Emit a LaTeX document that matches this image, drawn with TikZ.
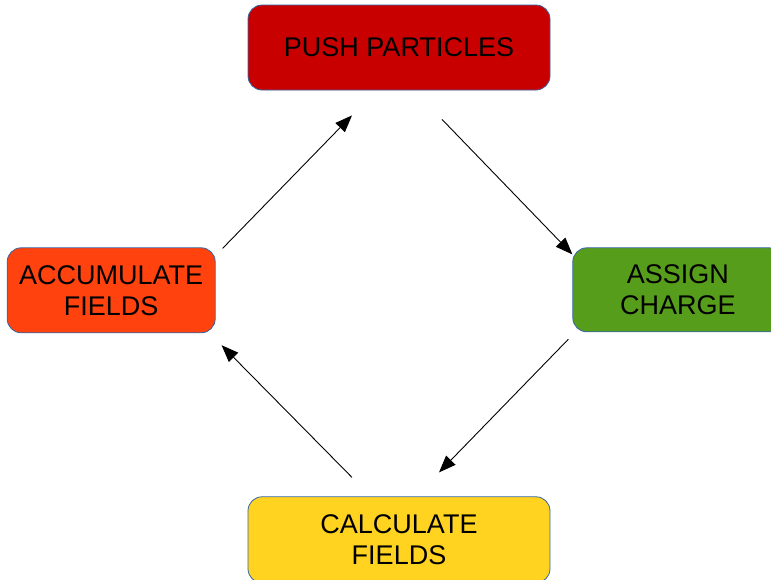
\documentclass[tikz,border=0pt]{standalone}
\usepackage{fontspec}
\setmainfont{Liberation Sans}
\usepackage{xcolor}
\usepackage{tikz}
\usetikzlibrary{positioning,arrows.meta}
\definecolor{pushred}{RGB}{201,0,0}
\definecolor{assigngreen}{RGB}{87,157,28}
\definecolor{accumorange}{RGB}{255,66,14}
\definecolor{calcyellow}{RGB}{255,211,32}
\definecolor{boxborder}{RGB}{52,101,164}
\tikzset{
  cycle step/.style={rectangle, rounded corners=14pt, draw=boxborder, line width=0.8pt, align=center, inner sep=0pt, minimum height=85pt, font=\fontsize{27}{31}\selectfont},
  cycle arrow/.style={-{Triangle[length=17pt,width=13pt]}, line width=0.9pt}
}

\begin{document}
\begin{tikzpicture}[x=1pt, y=-1pt]
    \useasboundingbox (0,0) rectangle (771,579);

    % Steps of the cycle
    \node [cycle step, fill=pushred, minimum width=302pt] (Push) at (399,47.5) {PUSH PARTICLES};
    \node [cycle step, fill=assigngreen, minimum width=210pt, minimum height=84pt, below right=157pt and 22pt of Push.south east, anchor=north west] (Assign) {ASSIGN\\CHARGE};
    \node [cycle step, fill=accumorange, minimum width=208pt, below left=157pt and 32pt of Push.south west, anchor=north east] (Accum) {ACCUMULATE\\FIELDS};
    \node [cycle step, fill=calcyellow, minimum width=302pt, minimum height=86pt, below=406pt of Push] (Calc) {CALCULATE\\FIELDS};

    % Arrow ends
    \coordinate (PushOut) at ([shift={(43,29)}]Push.south);
    \coordinate (AssignIn) at ([shift={(0,7)}]Assign.north west);
    \coordinate (AssignOut) at ([shift={(-4,7)}]Assign.south west);
    \coordinate (CalcIn) at ([shift={(40,-24)}]Calc.north);
    \coordinate (CalcOut) at ([shift={(-47,-19)}]Calc.north);
    \coordinate (AccumIn) at ([shift={(6,12)}]Accum.south east);
    \coordinate (AccumOut) at ([shift={(7,1)}]Accum.north east);
    \coordinate (PushIn) at ([shift={(-47,25)}]Push.south);

    % Connections
    \draw [cycle arrow] (PushOut) -- (AssignIn);
    \draw [cycle arrow] (AssignOut) -- (CalcIn);
    \draw [cycle arrow] (CalcOut) -- (AccumIn);
    \draw [cycle arrow] (AccumOut) -- (PushIn);
\end{tikzpicture}
\end{document}
